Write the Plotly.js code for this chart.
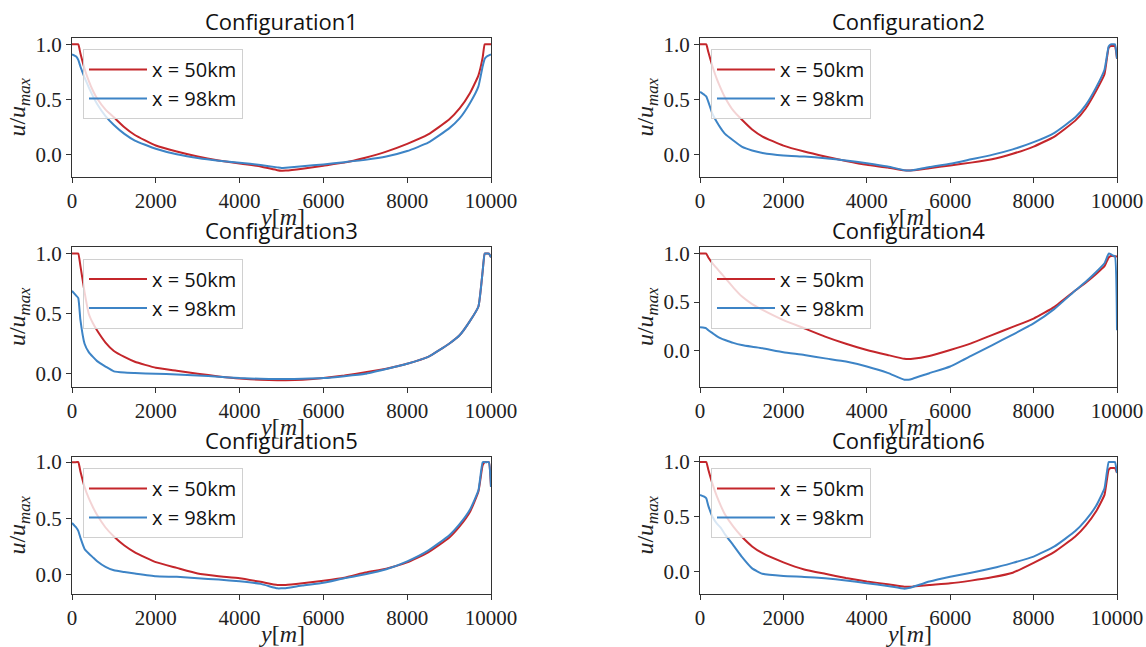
<!DOCTYPE html>
<html>
<head>
<meta charset="utf-8">
<script src="https://cdn.plot.ly/plotly-3.0.1.min.js"></script>
<style>html,body{margin:0;padding:0;background:#fff;}#chart{width:1146px;height:647px;}</style>
</head>
<body>
<div id="chart"></div>
<script>
// shared y positions across the channel [m]
const yPos = [0, 100, 150, 200, 300, 400, 500, 600, 800, 1000, 1250, 1500, 2000, 2500, 3000, 3500, 4000, 4500, 4900, 5000, 5100, 5500, 6000, 6500, 7000, 7500, 8000, 8500, 9000, 9250, 9500, 9700, 9800, 9850, 9900, 9950, 10000];

const seriesNames = ["x = 50km", "x = 98km"];
const panelTitles = ["Configuration1", "Configuration2", "Configuration3", "Configuration4", "Configuration5", "Configuration6"];
const yTickVals = [0, 0.5, 1.0];
const yTickText = ["0.0", "0.5", "1.0"];
const xTickVals = [0, 2000, 4000, 6000, 8000, 10000];
const xTickText = ["0", "2000", "4000", "6000", "8000", "10000"];

const c1_50 = [1.0, 1.0, 1.0, 0.92, 0.78, 0.67, 0.58, 0.51, 0.41, 0.34, 0.25, 0.18, 0.085, 0.03, -0.015, -0.05, -0.078, -0.105, -0.138, -0.143, -0.142, -0.125, -0.098, -0.07, -0.025, 0.03, 0.1, 0.185, 0.32, 0.42, 0.56, 0.72, 0.88, 1.0, 1.0, 1.0, 1.0];
const c1_98 = [0.91, 0.89, 0.86, 0.8, 0.7, 0.61, 0.53, 0.46, 0.35, 0.27, 0.19, 0.13, 0.055, 0.005, -0.028, -0.052, -0.07, -0.092, -0.113, -0.118, -0.116, -0.102, -0.086, -0.066, -0.045, -0.015, 0.035, 0.11, 0.24, 0.33, 0.47, 0.62, 0.8, 0.87, 0.89, 0.9, 0.91];

const c2_50 = [1.0, 1.0, 1.0, 0.93, 0.8, 0.69, 0.6, 0.52, 0.4, 0.32, 0.23, 0.166, 0.084, 0.03, -0.015, -0.055, -0.09, -0.115, -0.14, -0.142, -0.14, -0.12, -0.096, -0.07, -0.04, 0.01, 0.075, 0.166, 0.31, 0.42, 0.58, 0.73, 0.97, 0.985, 0.985, 0.985, 0.87];
const c2_98 = [0.57, 0.545, 0.53, 0.48, 0.37, 0.3, 0.24, 0.19, 0.13, 0.075, 0.04, 0.018, -0.005, -0.015, -0.03, -0.05, -0.075, -0.105, -0.138, -0.142, -0.138, -0.11, -0.08, -0.04, 0.0, 0.05, 0.115, 0.2, 0.34, 0.45, 0.61, 0.77, 0.98, 1.0, 1.0, 1.0, 0.87];

const c3_50 = [1.0, 1.0, 1.0, 0.9, 0.68, 0.5, 0.42, 0.36, 0.26, 0.19, 0.14, 0.1, 0.05, 0.025, 0.0, -0.022, -0.04, -0.05, -0.055, -0.055, -0.055, -0.05, -0.036, -0.015, 0.012, 0.042, 0.083, 0.14, 0.25, 0.32, 0.44, 0.56, 0.85, 1.0, 1.0, 1.0, 0.97];
const c3_98 = [0.69, 0.65, 0.63, 0.45, 0.25, 0.18, 0.14, 0.105, 0.06, 0.02, 0.01, 0.006, 0.0, -0.006, -0.014, -0.025, -0.036, -0.042, -0.044, -0.044, -0.044, -0.042, -0.036, -0.02, 0.0, 0.04, 0.083, 0.14, 0.25, 0.32, 0.44, 0.56, 0.85, 1.0, 1.0, 1.0, 0.97];

const c4_50 = [1.0, 1.0, 1.0, 0.96, 0.9, 0.85, 0.8, 0.75, 0.65, 0.56, 0.48, 0.42, 0.315, 0.23, 0.144, 0.07, 0.007, -0.045, -0.085, -0.087, -0.085, -0.055, 0.007, 0.075, 0.16, 0.245, 0.33, 0.45, 0.62, 0.7, 0.79, 0.87, 0.96, 0.975, 0.975, 0.972, 0.97];
const c4_98 = [0.24, 0.235, 0.23, 0.21, 0.18, 0.15, 0.127, 0.11, 0.08, 0.058, 0.04, 0.024, -0.017, -0.045, -0.08, -0.113, -0.164, -0.23, -0.3, -0.3, -0.29, -0.233, -0.164, -0.055, 0.055, 0.165, 0.28, 0.43, 0.62, 0.71, 0.81, 0.9, 1.0, 0.995, 0.98, 0.975, 0.21];

const c5_50 = [1.0, 1.0, 1.0, 0.92, 0.78, 0.68, 0.6, 0.53, 0.42, 0.34, 0.26, 0.2, 0.113, 0.062, 0.012, -0.012, -0.03, -0.062, -0.09, -0.09, -0.09, -0.075, -0.052, -0.025, 0.02, 0.055, 0.11, 0.2, 0.33, 0.43, 0.56, 0.74, 0.97, 1.0, 1.0, 1.0, 0.78];
const c5_98 = [0.46, 0.42, 0.39, 0.33, 0.23, 0.19, 0.155, 0.12, 0.07, 0.04, 0.025, 0.012, -0.012, -0.018, -0.03, -0.042, -0.057, -0.08, -0.12, -0.12, -0.118, -0.095, -0.07, -0.03, 0.005, 0.05, 0.12, 0.215, 0.35, 0.45, 0.58, 0.75, 1.0, 1.0, 1.0, 1.0, 0.78];

const c6_50 = [1.0, 1.0, 1.0, 0.93, 0.8, 0.69, 0.6, 0.52, 0.41, 0.32, 0.23, 0.168, 0.085, 0.02, -0.02, -0.058, -0.09, -0.115, -0.137, -0.137, -0.136, -0.122, -0.107, -0.082, -0.052, -0.01, 0.08, 0.18, 0.32, 0.42, 0.55, 0.7, 0.93, 0.945, 0.945, 0.945, 0.9];
const c6_98 = [0.7, 0.685, 0.67, 0.6, 0.5, 0.44, 0.4, 0.34, 0.24, 0.137, 0.03, -0.02, -0.04, -0.048, -0.06, -0.08, -0.105, -0.13, -0.155, -0.15, -0.14, -0.09, -0.046, -0.01, 0.03, 0.08, 0.137, 0.23, 0.37, 0.47, 0.6, 0.76, 1.0, 1.0, 1.0, 1.0, 0.9];

const panelData = [[c1_50, c1_98], [c2_50, c2_98], [c3_50, c3_98], [c4_50, c4_98], [c5_50, c5_98], [c6_50, c6_98]];
const yRanges = [[-0.2, 1.062], [-0.2, 1.062], [-0.106, 1.055], [-0.37, 1.068], [-0.17, 1.05], [-0.204, 1.05]];

const W = 1146, H = 647;
const colPx = [[72, 491], [700, 1117]];
const rowPx = [[37.5, 177], [247, 386.5], [456.5, 594]];
const colors = ["#c4262b", "#3d84c6"];

const serif = "Liberation Serif";
const sans = "Open Sans";

const traces = [];
const layout = {
  width: W, height: H,
  margin: {l: 0, r: 0, t: 0, b: 0},
  paper_bgcolor: "#fff", plot_bgcolor: "#fff",
  font: {family: serif},
  showlegend: true,
  annotations: []
};

for (let p = 0; p < 6; p++) {
  const col = p % 2, row = Math.floor(p / 2);
  const sfx = p === 0 ? "" : String(p + 1);
  const xd = [colPx[col][0] / W, colPx[col][1] / W];
  const yd = [1 - rowPx[row][1] / H, 1 - rowPx[row][0] / H];
  const legName = "legend" + sfx;
  for (let s = 0; s < 2; s++) {
    traces.push({
      x: yPos, y: panelData[p][s], type: "scatter", mode: "lines",
      name: seriesNames[s],
      line: {color: colors[s], width: 2, shape: "spline", smoothing: 0.4},
      xaxis: "x" + sfx, yaxis: "y" + sfx,
      legend: legName
    });
  }
  const axCommon = {
    showline: true, mirror: true, linecolor: "#333", linewidth: 1,
    ticks: "outside", ticklen: 5, tickcolor: "#333", tickwidth: 1,
    showgrid: false, zeroline: false,
    tickfont: {family: serif, size: 21, color: "#222"}
  };
  layout["xaxis" + sfx] = Object.assign({}, axCommon, {
    domain: xd, range: [0, 10000], tickvals: xTickVals, ticktext: xTickText,
    anchor: "y" + sfx
  });
  layout["yaxis" + sfx] = Object.assign({}, axCommon, {
    domain: yd, range: yRanges[p], tickvals: yTickVals, ticktext: yTickText,
    anchor: "x" + sfx,
    title: {text: "<i>u</i>/<i>u</i><sub><i>max</i></sub>", font: {family: serif, size: 24, color: "#222"}, standoff: 3}
  });
  layout[legName] = {
    x: (colPx[col][0] + 11) / W, y: 1 - (rowPx[row][0] + 11.5) / H,
    xanchor: "left", yanchor: "top",
    bgcolor: "rgba(255,255,255,0.8)", bordercolor: "#d0d0d0", borderwidth: 1,
    font: {family: sans, size: 20, color: "#111"},
    itemwidth: 58
  };
  layout.annotations.push({
    text: panelTitles[p], xref: "paper", yref: "paper",
    x: (xd[0] + xd[1]) / 2, y: yd[1], xanchor: "center", yanchor: "bottom",
    showarrow: false, yshift: 0,
    font: {family: sans, size: 22, color: "#111"}
  });
  // x-axis title placed as annotation beneath the tick labels
  layout.annotations.push({
    text: "<i>y</i>[<i>m</i>]", xref: "paper", yref: "paper",
    x: (xd[0] + xd[1]) / 2, y: yd[0], xanchor: "center", yanchor: "middle",
    showarrow: false, yshift: -40,
    font: {family: serif, size: 24, color: "#222"}
  });
}

Plotly.newPlot("chart", traces, layout, {displayModeBar: false, staticPlot: true});
</script>
</body>
</html>
